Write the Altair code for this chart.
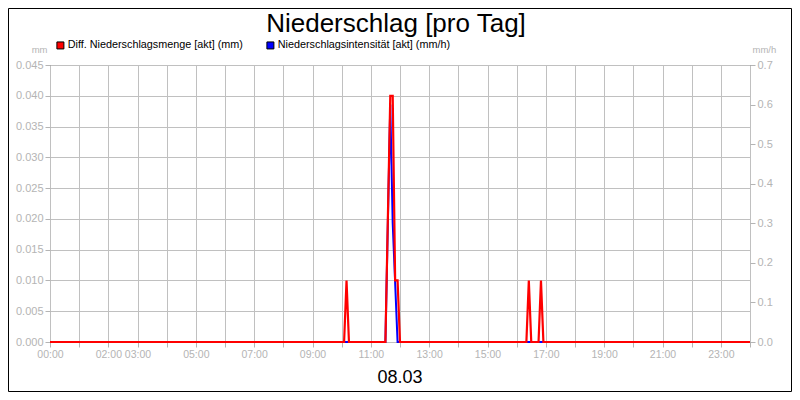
import json
import altair as alt
import pandas as pd

# ---------------- data ----------------
title_text = "Niederschlag [pro Tag]"
date_text = "08.03"
series = ["Diff. Niederschlagsmenge [akt] (mm)", "Niederschlagsintensität [akt] (mm/h)"]
series_colors = ["#ff0000", "#0000ff"]

red_times = ["00:00", "10:05", "10:10", "10:15", "11:30", "11:40", "11:45", "11:50",
             "11:55", "12:00", "16:20", "16:25", "16:30", "16:45", "16:50", "16:55", "24:00"]
red_values = [0, 0, 0.01, 0, 0, 0.04, 0.04, 0.01,
              0.01, 0, 0, 0.01, 0, 0, 0.01, 0, 0]

blue_times = ["00:00", "11:30", "11:40", "11:45", "11:55", "24:00"]
blue_values = [0, 0, 0.6, 0.3, 0, 0]

x_tick_labels = ["00:00", "02:00", "03:00", "05:00", "07:00", "09:00", "11:00",
                 "13:00", "15:00", "17:00", "19:00", "21:00", "23:00"]
left_ticks = [0.000, 0.005, 0.010, 0.015, 0.020, 0.025, 0.030, 0.035, 0.040, 0.045]
right_ticks = [0.0, 0.1, 0.2, 0.3, 0.4, 0.5, 0.6, 0.7]
left_unit = "mm"
right_unit = "mm/h"


def to_hours(t):
    h, m = t.split(":")
    return int(h) + int(m) / 60.0


red_df = pd.DataFrame({"h": [to_hours(t) for t in red_times], "v": red_values})
blue_df = pd.DataFrame({"h": [to_hours(t) for t in blue_times], "v": blue_values})

label_hours = [int(to_hours(t)) for t in x_tick_labels]
hours_js = json.dumps(label_hours)
labels_js = json.dumps(x_tick_labels)
x_label_expr = (f"indexof({hours_js}, datum.value) >= 0 ? "
                f"{labels_js}[indexof({hours_js}, datum.value)] : ''")

FONT = "Liberation Sans"
GRID = "#c0c0c0"
LABEL = "#b4b4b4"

x_enc = alt.X(
    "h:Q",
    scale=alt.Scale(domain=[0, 24], nice=False, zero=False),
    axis=alt.Axis(values=list(range(25)), labelExpr=x_label_expr, grid=True,
                  gridColor=GRID, tickColor=LABEL, tickSize=5, labelPadding=2,
                  labelColor=LABEL, labelFontSize=10.5, labelFont=FONT,
                  labelOverlap=False, labelFlush=False, domain=False, title=None),
)

frame = alt.Chart(pd.DataFrame({"a": [0]})).mark_rect(
    fill="white", fillOpacity=0, stroke="black", strokeWidth=1
).encode(x=alt.value(-41.5), x2=alt.value(741.5), y=alt.value(-56.5), y2=alt.value(326.5))

blue = alt.Chart(blue_df).mark_line(color=series_colors[1], strokeWidth=2).encode(
    x=x_enc,
    y=alt.Y("v:Q", scale=alt.Scale(domain=[0, 0.7], nice=False),
            axis=alt.Axis(orient="right", values=right_ticks, format=".1f", grid=False,
                          tickColor=LABEL, tickSize=5, labelPadding=2, labelColor=LABEL,
                          labelFontSize=11, labelFont=FONT, domain=False,
                          title=right_unit, titleAngle=0, titleX=2, titleY=-13,
                          titleAlign="left", titleBaseline="alphabetic",
                          titleColor=LABEL, titleFontSize=9.5, titleFont=FONT,
                          titleFontWeight="normal")),
)

red = alt.Chart(red_df).mark_line(color=series_colors[0], strokeWidth=2.2).encode(
    x=x_enc,
    y=alt.Y("v:Q", scale=alt.Scale(domain=[0, 0.045], nice=False),
            axis=alt.Axis(orient="left", values=left_ticks, format=".3f", grid=True,
                          gridColor=GRID, tickColor=LABEL, tickSize=5, labelPadding=2,
                          labelColor=LABEL, labelFontSize=11, labelFont=FONT,
                          domain=False, title=left_unit, titleAngle=0, titleX=-3,
                          titleY=-13, titleAlign="right", titleBaseline="alphabetic",
                          titleColor=LABEL, titleFontSize=9.5, titleFont=FONT,
                          titleFontWeight="normal")),
)

legend_layer = alt.Chart(pd.DataFrame({"series": series})).transform_filter("false").mark_point(
    shape="square", filled=True, opacity=1
).encode(
    fill=alt.Fill("series:N", scale=alt.Scale(domain=series, range=series_colors),
                  legend=alt.Legend(orient="none", legendX=5, legendY=-25,
                                    direction="horizontal", title=None,
                                    symbolType="square", symbolSize=49, symbolOpacity=1,
                                    symbolStrokeColor="black", symbolStrokeWidth=1,
                                    labelFontSize=10.8, labelFont=FONT, labelColor="black",
                                    labelLimit=400, labelOffset=2, columnPadding=21,
                                    padding=0))
)

title_layer = alt.Chart(pd.DataFrame({"t": [title_text]})).mark_text(
    fontSize=26, font=FONT, color="black", align="center", baseline="alphabetic"
).encode(text="t:N", x=alt.value(346), y=alt.value(-33))

date_layer = alt.Chart(pd.DataFrame({"t": [date_text]})).mark_text(
    fontSize=18, font=FONT, color="black", align="center", baseline="alphabetic"
).encode(text="t:N", x=alt.value(350), y=alt.value(318))

chart = alt.layer(frame, blue, red, legend_layer, title_layer, date_layer).resolve_scale(
    y="independent"
).properties(
    width=700, height=277,
    autosize=alt.AutoSizeParams(type="none"),
    padding={"left": 42, "top": 57, "right": 42, "bottom": 50},
    background="white",
).configure_view(stroke="black", strokeWidth=1)

chart.save("out.html", embed_options={"renderer": "svg", "actions": False})
